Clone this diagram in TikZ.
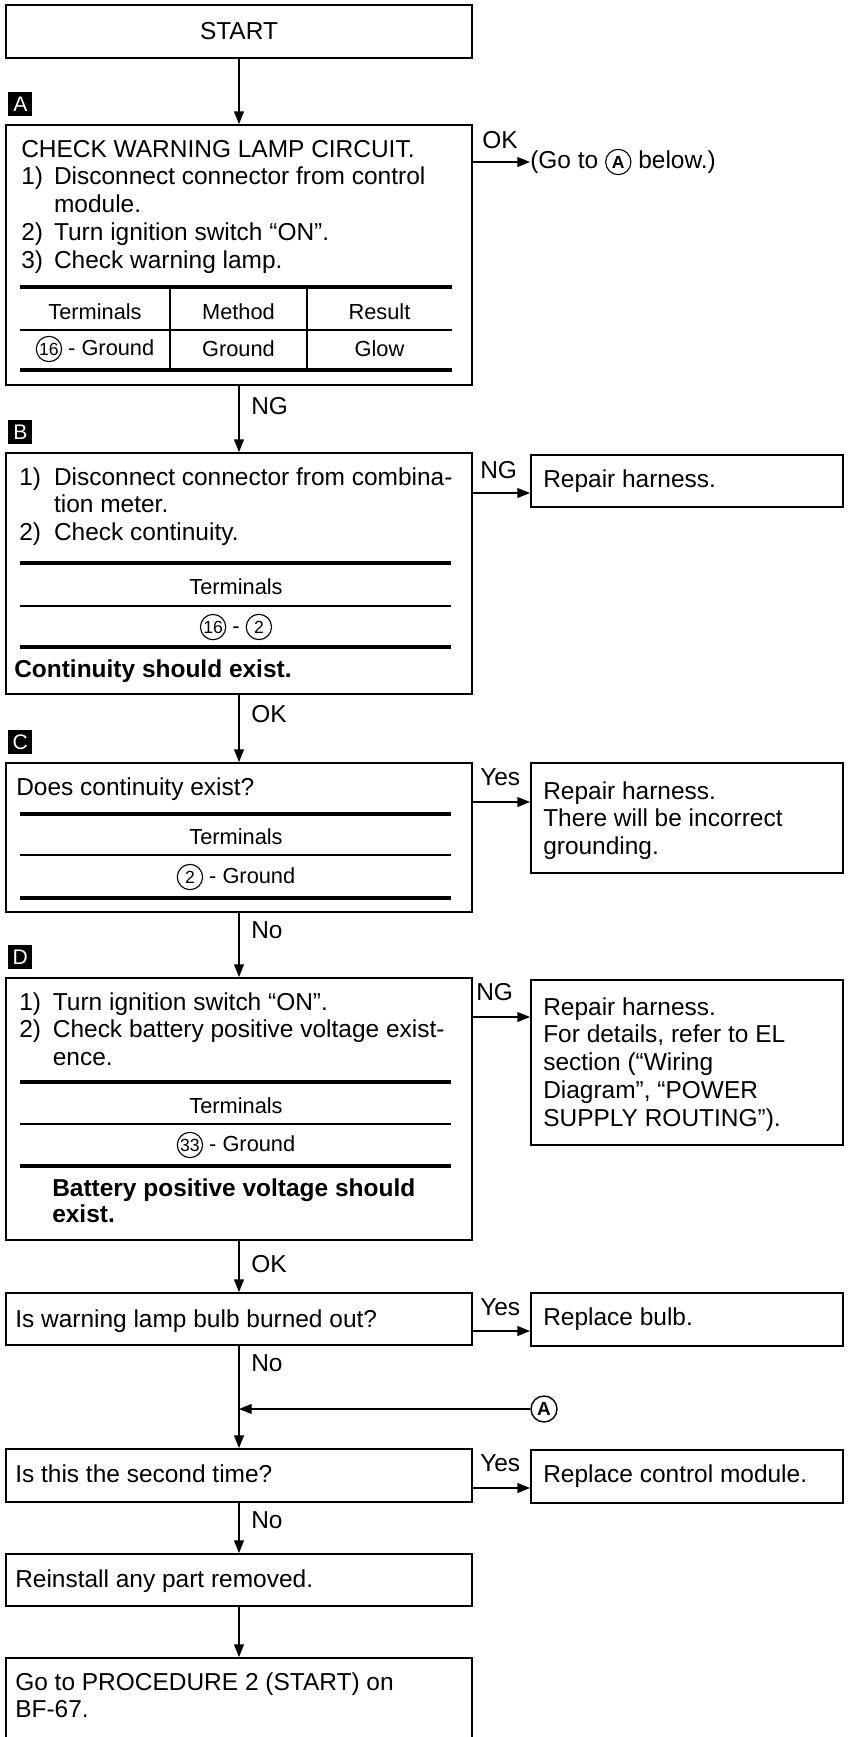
\documentclass[tikz,border=0pt]{standalone}
\usepackage{fontspec}
\setmainfont{Liberation Sans}
\usetikzlibrary{arrows.meta, positioning}

\newcommand{\bodyfont}{\fontsize{17.4}{19.8}\selectfont}
\newcommand{\tabfont}{\fontsize{15.5}{18}\selectfont}
\newcommand{\cnum}[1]{\tikz[baseline=(cn.base)]\node[circle, draw, line width=0.8pt, inner sep=0pt, minimum size=18pt, font=\fontsize{12.5}{12.5}\selectfont] (cn) {#1};}

\begin{document}
\begin{tikzpicture}[x=0.025cm, y=-0.025cm,
    box/.style={rectangle, draw, line width=1.3pt, inner sep=0pt},
    leftbox/.style={box, minimum width=11.65cm, minimum height=#1},
    rightbox/.style={box, minimum width=7.8cm, minimum height=#1},
    txt/.style={inner sep=0pt, anchor=base west, font=\bodyfont},
    cell/.style={inner sep=0pt, font=\tabfont},
    lbl/.style={inner sep=0pt, anchor=west, font=\bodyfont},
    tag/.style={fill=black, text=white, inner sep=0pt, minimum size=0.6cm, font=\fontsize{15}{15}\selectfont},
    thickrule/.style={line width=2.8pt},
    thinrule/.style={line width=0.9pt},
    arrow/.style={-{Triangle[length=9pt, width=7pt]}, line width=0.9pt},
]
\useasboundingbox (0,0) rectangle (849,1737);
\fill[white] (0,0) rectangle (849,1737);

% heights of the side arrows
\coordinate (okA) at (0,162);
\coordinate (ngB) at (0,493);
\coordinate (yesC) at (0,802);
\coordinate (ngD) at (0,1017);
\coordinate (yesE) at (0,1331);
\coordinate (yesF) at (0,1488);

% Main column
\node[leftbox=1.325cm] (start) at (239,31.5) {};
\node[font=\bodyfont] (starttxt) at (239,31) {START};

\node[leftbox=6.5cm] (boxA) at (239,255) {};
\node[tag, above right=0.2cm and 0.075cm of boxA.north west] (tagA) {A};
\node[txt] (txtA) at (21,157) {\begin{tabular}[t]{@{}p{0.82cm}@{}l@{}}
\multicolumn{2}{@{}l@{}}{CHECK WARNING LAMP CIRCUIT.}\\
1) & Disconnect connector from control\\
   & module.\\
2) & Turn ignition switch “ON”.\\
3) & Check warning lamp.
\end{tabular}};
\draw[thickrule] (20,287) -- (452,287);
\draw[thinrule] (20,330) -- (452,330);
\draw[thickrule] (20,370) -- (452,370);
\draw[thinrule] (170,287) -- (170,370);
\draw[thinrule] (307,287) -- (307,370);
\node[cell] (hA1) at (95,312) {Terminals};
\node[cell] (hA2) at (238.5,312) {Method};
\node[cell] (hA3) at (379.5,312) {Result};
\node[cell] (dA1) at (95,349) {\cnum{16} - Ground};
\node[cell] (dA2) at (238.5,349) {Ground};
\node[cell] (dA3) at (379.5,349) {Glow};

\node[leftbox=6.025cm] (boxB) at (239,573.5) {};
\node[tag, above right=0.2cm and 0.075cm of boxB.north west] (tagB) {B};
\node[txt] (txtB) at (19,485) {\begin{tabular}[t]{@{}p{0.87cm}@{}l@{}}
1) & Disconnect connector from combina-\\
   & tion meter.\\
2) & Check continuity.
\end{tabular}};
\draw[thickrule] (20,563) -- (451,563);
\draw[thinrule] (20,606) -- (451,606);
\draw[thickrule] (20,647) -- (451,647);
\node[cell] (hB) at (236,587) {Terminals};
\node[cell] (dB) at (236,627) {\cnum{16} - \cnum{2}};
\node[txt, font=\bodyfont\bfseries] (resB) at (14,677) {Continuity should exist.};

\node[leftbox=3.725cm] (boxC) at (239,837.5) {};
\node[tag, above right=0.2cm and 0.075cm of boxC.north west] (tagC) {C};
\node[txt] (txtC) at (16,795) {Does continuity exist?};
\draw[thickrule] (20,814) -- (451,814);
\draw[thinrule] (20,855) -- (451,855);
\draw[thickrule] (20,898) -- (451,898);
\node[cell] (hC) at (236,837) {Terminals};
\node[cell] (dC) at (236,877) {\cnum{2} - Ground};

\node[leftbox=6.55cm] (boxD) at (239,1109) {};
\node[tag, above right=0.2cm and 0.075cm of boxD.north west] (tagD) {D};
\node[txt] (txtD) at (19,1010) {\begin{tabular}[t]{@{}p{0.84cm}@{}l@{}}
1) & Turn ignition switch “ON”.\\
2) & Check battery positive voltage exist-\\
   & ence.
\end{tabular}};
\draw[thickrule] (20,1082) -- (451,1082);
\draw[thinrule] (20,1124) -- (451,1124);
\draw[thickrule] (20,1166) -- (451,1166);
\node[cell] (hD) at (236,1106) {Terminals};
\node[cell] (dD) at (236,1145) {\cnum{33} - Ground};
\node[txt, font=\fontsize{17.4}{19}\selectfont\bfseries] (resD) at (52,1196) {\begin{tabular}[t]{@{}l@{}}
Battery positive voltage should\\
exist.
\end{tabular}};

\node[leftbox=1.3cm] (boxE) at (239,1319) {};
\node[txt] (txtE) at (15,1327) {Is warning lamp bulb burned out?};

\node[leftbox=1.325cm] (boxF) at (239,1475.5) {};
\node[txt] (txtF) at (15,1482) {Is this the second time?};

\node[leftbox=1.3cm] (boxG) at (239,1580) {};
\node[txt] (txtG) at (15,1587) {Reinstall any part removed.};

\node[leftbox=2.55cm] (boxH) at (239,1709) {};
\node[txt] (txtH) at (15,1690) {\begin{tabular}[t]{@{}l@{}}
Go to PROCEDURE 2 (START) on\\
BF-67.
\end{tabular}};

% Right column
\node[lbl] (goA) at (530,162) {(Go to \cnum{\textbf{A}} below.)};
\node[rightbox=1.3cm] (repB) at (687,481) {};
\node[txt] (txtRB) at (543,487) {Repair harness.};
\node[rightbox=2.75cm] (repC) at (687,818) {};
\node[txt] (txtRC) at (543,799) {\begin{tabular}[t]{@{}l@{}}
Repair harness.\\
There will be incorrect\\
grounding.
\end{tabular}};
\node[rightbox=4.125cm] (repD) at (687,1062.5) {};
\node[txt] (txtRD) at (543,1015) {\begin{tabular}[t]{@{}l@{}}
Repair harness.\\
For details, refer to EL\\
section (“Wiring\\
Diagram”, “POWER\\
SUPPLY ROUTING”).
\end{tabular}};
\node[rightbox=1.325cm] (repE) at (687,1319.5) {};
\node[txt] (txtRE) at (543,1325) {Replace bulb.};
\node[rightbox=1.325cm] (repF) at (687,1476.5) {};
\node[txt] (txtRF) at (543,1482) {Replace control module.};

\node[circle, draw, line width=1pt, minimum size=0.65cm, inner sep=0pt, font=\bfseries\fontsize{13.5}{13.5}\selectfont] (conA) at (544,1409) {A};

% Connectors
\draw[arrow] (start.south) -- (boxA.north);
\draw[arrow] (boxA.east |- okA) -- (goA.west);
\draw[arrow] (boxA.south) -- (boxB.north);
\draw[arrow] (boxB.east |- ngB) -- (repB.west |- ngB);
\draw[arrow] (boxB.south) -- (boxC.north);
\draw[arrow] (boxC.east |- yesC) -- (repC.west |- yesC);
\draw[arrow] (boxC.south) -- (boxD.north);
\draw[arrow] (boxD.east |- ngD) -- (repD.west |- ngD);
\draw[arrow] (boxD.south) -- (boxE.north);
\draw[arrow] (boxE.east |- yesE) -- (repE.west |- yesE);
\draw[arrow] (boxE.south) -- (boxF.north);
\draw[arrow] (conA.west) -- (conA.west -| boxE.south);
\draw[arrow] (boxF.east |- yesF) -- (repF.west |- yesF);
\draw[arrow] (boxF.south) -- (boxG.north);
\draw[arrow] (boxG.south) -- (boxH.north);

% Labels
\node[lbl] (lOKA) at (482,140) {OK};
\node[lbl] (lNGA) at (251,406) {NG};
\node[lbl] (lNGB) at (480,470) {NG};
\node[lbl] (lOKB) at (251,714) {OK};
\node[lbl] (lYesC) at (480,777) {Yes};
\node[lbl] (lNoC) at (251,930) {No};
\node[lbl] (lNGD) at (476,992) {NG};
\node[lbl] (lOKD) at (251,1264) {OK};
\node[lbl] (lYesE) at (480,1307) {Yes};
\node[lbl] (lNoE) at (251,1363) {No};
\node[lbl] (lYesF) at (480,1463) {Yes};
\node[lbl] (lNoF) at (251,1520) {No};
\end{tikzpicture}
\end{document}
